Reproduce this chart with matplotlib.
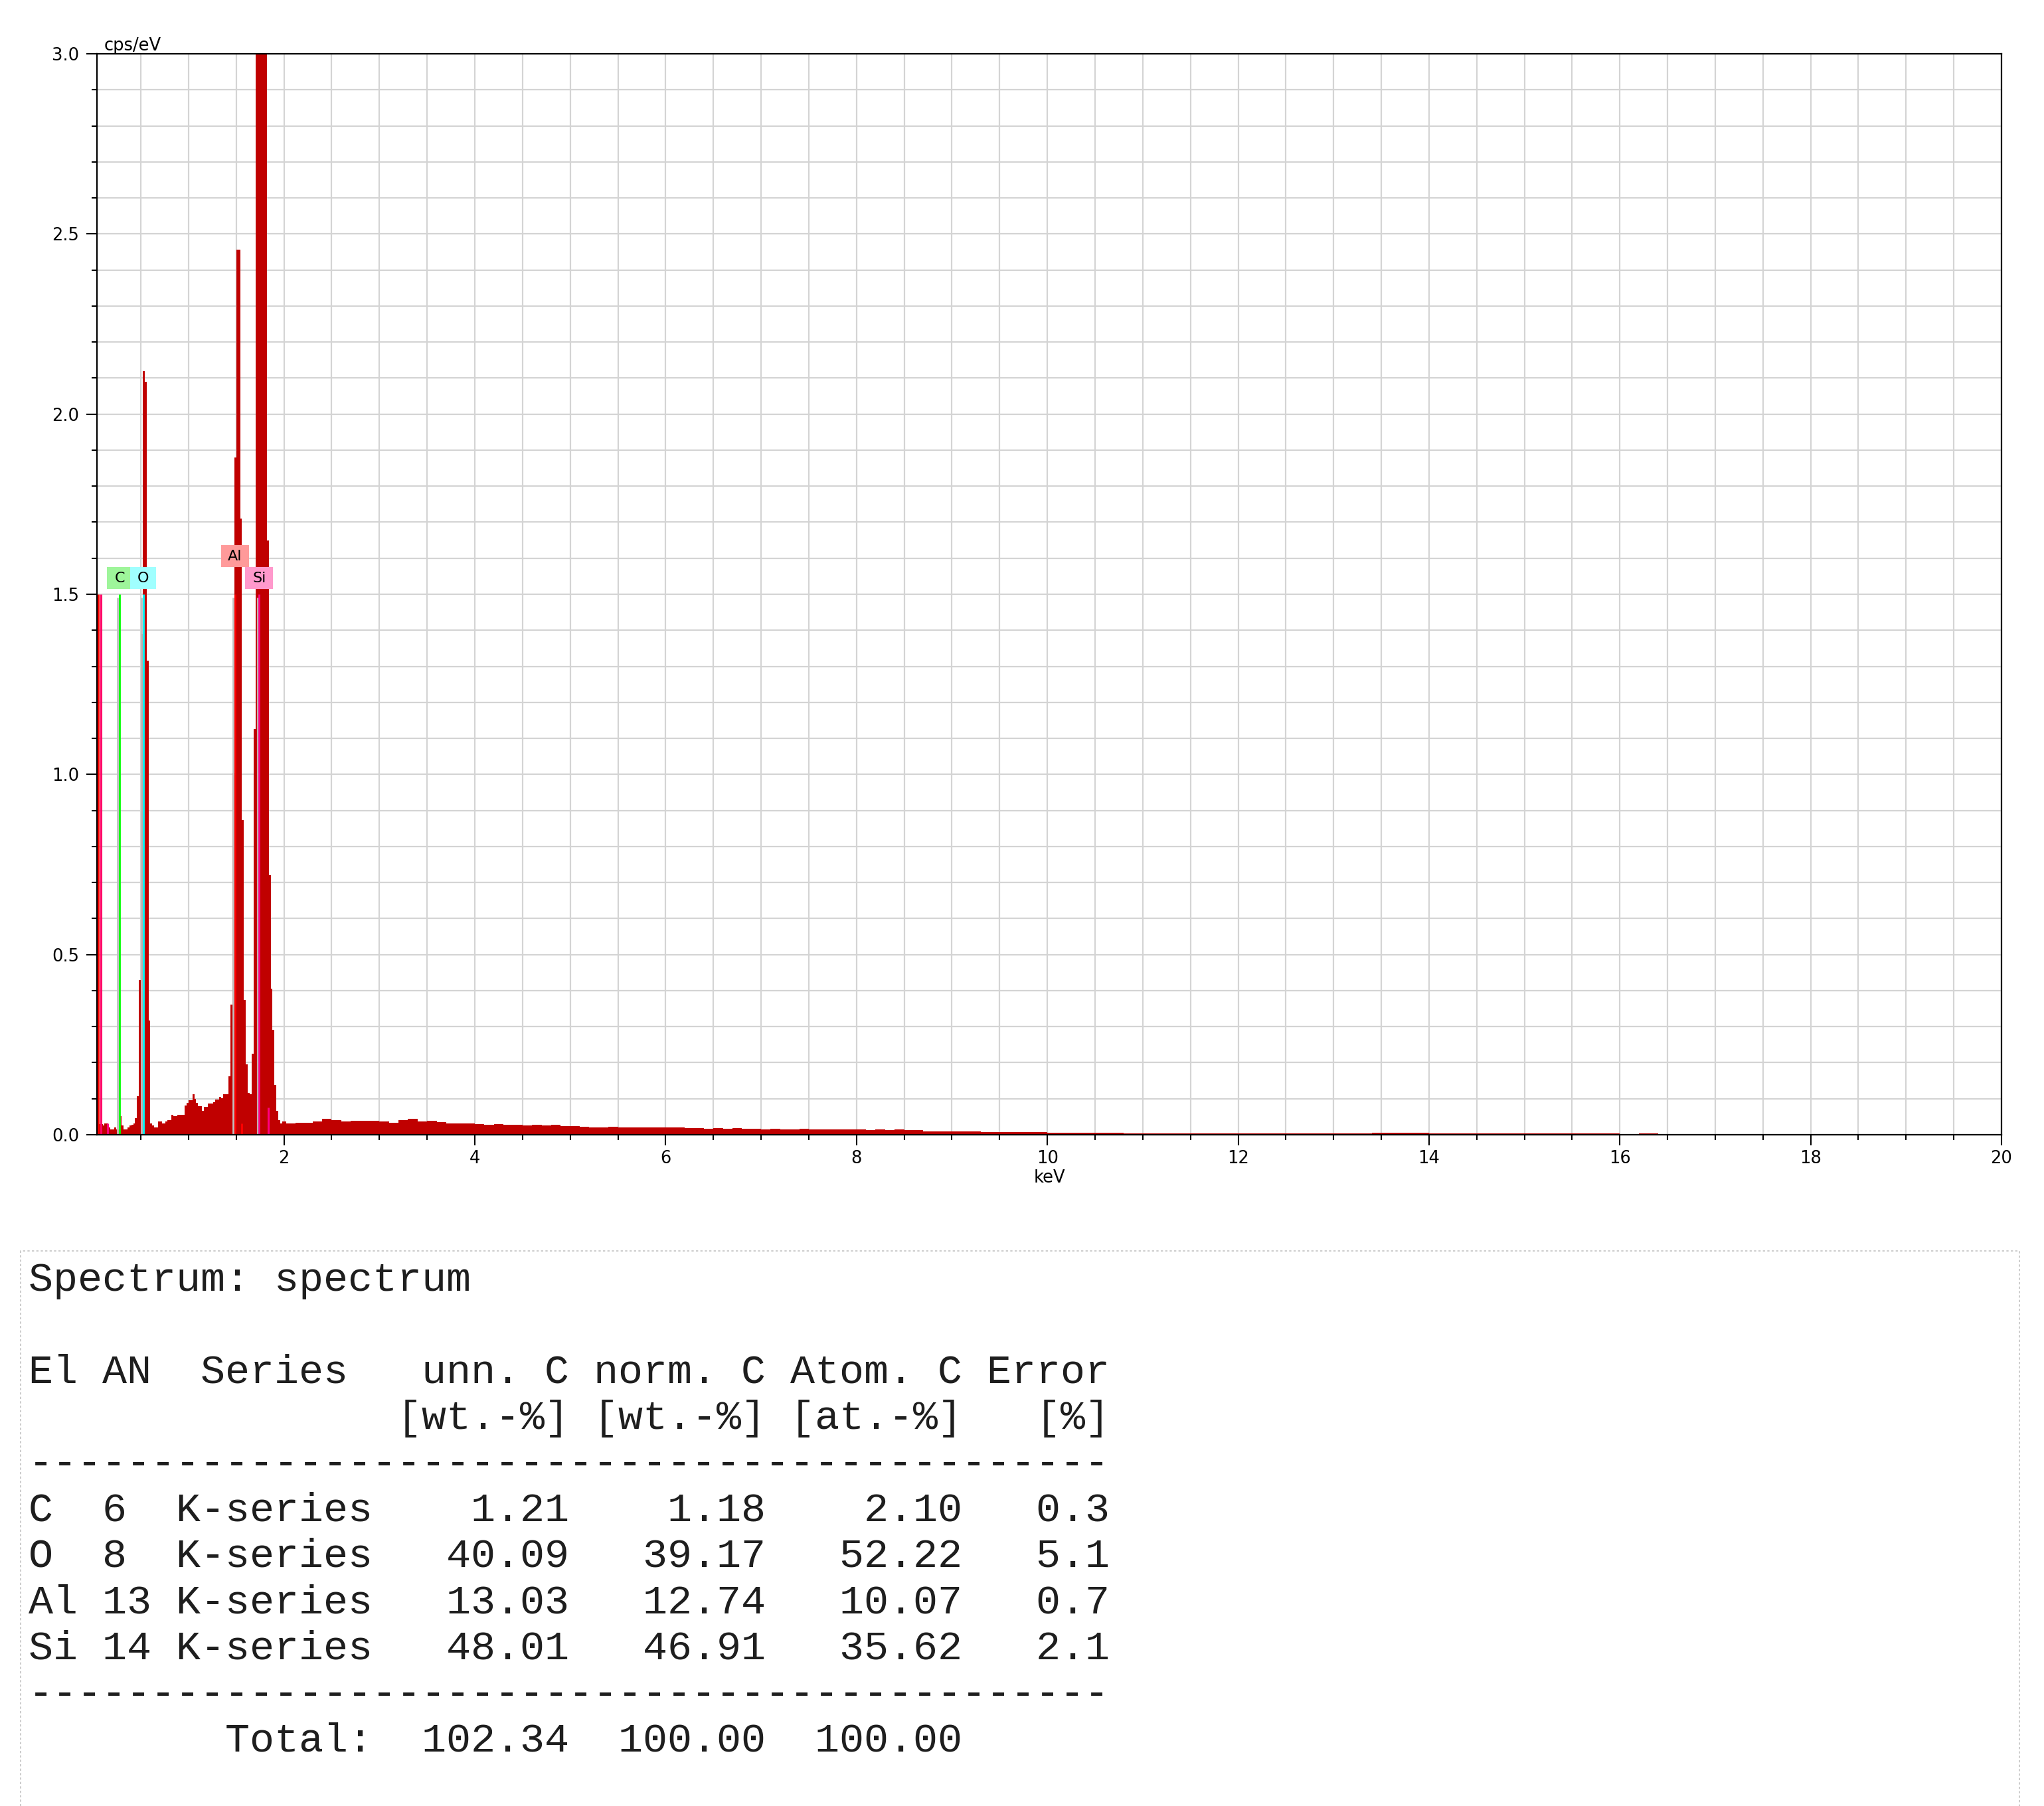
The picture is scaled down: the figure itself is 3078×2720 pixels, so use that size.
import numpy as np
import matplotlib.pyplot as plt
from matplotlib.patches import Rectangle
from matplotlib.ticker import MultipleLocator, FormatStrFormatter

# ========== 1. Spectrum data ==========
# fine channels around the peaks: 0.02 keV wide, first one starts at 0.04 keV
low_start_kev = 0.04
low_step_kev = 0.02
low_cps = [
    0.030, 0.030, 0.030, 0.025, 0.031, 0.031, 0.020, 0.015, 0.015, 0.020,
    0.015, 0.015, 0.051, 0.026, 0.015, 0.015, 0.020, 0.025, 0.028, 0.031,
    0.046, 0.107, 0.430, 1.390, 2.120, 2.090, 1.315, 0.317, 0.031, 0.025,
    0.021, 0.021, 0.036, 0.036, 0.031, 0.031, 0.036, 0.041, 0.041, 0.056,
    0.051, 0.051, 0.056, 0.056, 0.056, 0.056, 0.082, 0.089, 0.096, 0.096,
    0.112, 0.100, 0.089, 0.080, 0.080, 0.066, 0.077, 0.077, 0.087, 0.087,
    0.087, 0.090, 0.097, 0.097, 0.105, 0.101, 0.112, 0.112, 0.112, 0.163,
    0.362, 1.005, 1.880, 2.457, 2.457, 1.710, 0.873, 0.374, 0.196, 0.117,
    0.112, 0.225, 1.126, 3.400, 4.600, 5.500, 5.200, 4.100, 3.200, 1.650,
    0.720, 0.405, 0.292, 0.138, 0.066, 0.041, 0.031, 0.036, 0.036, 0.031,
    0.031, 0.031, 0.031, 0.031, 0.034, 0.034, 0.034, 0.033,
]

# background 2.2 - 10 keV in 0.1 keV bins
mid_start_kev = 2.2
mid_step_kev = 0.1
mid_cps = [
    0.033, 0.036, 0.045, 0.040, 0.037, 0.038, 0.039, 0.038, 0.036, 0.034,
    0.040, 0.044, 0.037, 0.038, 0.035, 0.032, 0.031, 0.031, 0.029, 0.027,
    0.030, 0.027, 0.027, 0.026, 0.027, 0.025, 0.027, 0.024, 0.024, 0.022,
    0.021, 0.021, 0.022, 0.020, 0.021, 0.020, 0.020, 0.020, 0.020, 0.021,
    0.018, 0.018, 0.017, 0.018, 0.017, 0.019, 0.016, 0.016, 0.015, 0.016,
    0.015, 0.015, 0.016, 0.015, 0.015, 0.014, 0.015, 0.014, 0.014, 0.013,
    0.014, 0.013, 0.014, 0.013, 0.012, 0.010, 0.010, 0.009, 0.010, 0.009,
    0.009, 0.008, 0.008, 0.007, 0.008, 0.007, 0.007, 0.007,
]

# background 10 - 17 keV in 0.2 keV bins
high_start_kev = 10.0
high_step_kev = 0.2
high_cps = [
    0.006, 0.006, 0.005, 0.005, 0.004, 0.004, 0.004, 0.004, 0.004, 0.004,
    0.003, 0.003, 0.003, 0.003, 0.003, 0.004, 0.004, 0.005, 0.005, 0.005,
    0.004, 0.004, 0.003, 0.004, 0.003, 0.003, 0.003, 0.003, 0.003, 0.003,
    0.002, 0.003, 0.002, 0.000, 0.000,
]

# element markers
marker_names = ["C", "O", "Al", "Si"]
marker_kev = [0.277, 0.525, 1.486, 1.740]
marker_line_colors = ["#00ff00", "#00ffff", "#ff0000", "#ff0080"]
marker_box_colors = ["#9ef59a", "#a0ffff", "#ff9a9a", "#ff99cc"]
marker_box_level = [0, 0, 1, 0]          # Al label is stacked one row up
marker_box_width = [0.27, 0.27, 0.29, 0.29]

# unlabelled marker lines (L lines near zero, K-beta lines)
extra_kev = [0.056, 0.081, 0.149, 1.557, 1.836]
extra_height = [1.5, 1.5, 0.031, 0.031, 0.075]
extra_colors = ["#ff0000", "#ff0066", "#ff0080", "#ff0000", "#ff0080"]

# quantification table
tab_el = ["C", "O", "Al", "Si"]
tab_an = [6, 8, 13, 14]
tab_series = ["K-series"] * 4
tab_unn = [1.21, 40.09, 13.03, 48.01]
tab_norm = [1.18, 39.17, 12.74, 46.91]
tab_atom = [2.10, 52.22, 10.07, 35.62]
tab_err = [0.3, 5.1, 0.7, 2.1]
tab_total = [102.34, 100.00, 100.00]

# ========== 2. Figure ==========
W, H = 3078, 2720
fig = plt.figure(figsize=(W / 100, H / 100), dpi=100)
ax = fig.add_axes([146 / W, 1 - 1709 / H, (3014 - 146) / W, (1709 - 81) / H])

bar_color = "#c00000"
for start, step, vals in [(low_start_kev, low_step_kev, low_cps),
                          (mid_start_kev, mid_step_kev, mid_cps),
                          (high_start_kev, high_step_kev, high_cps)]:
    edges = start + step * np.arange(len(vals) + 1)
    ax.stairs(vals, edges, fill=True, color=bar_color, lw=0, zorder=2)

# marker lines with grey shadow
shadow_dx = 0.019
for kev, h, c in zip(extra_kev, extra_height, extra_colors):
    ax.vlines(kev, 0, h, color=c, lw=2.2, zorder=3)
for kev, c in zip(marker_kev, marker_line_colors):
    ax.vlines(kev - shadow_dx, 0, 1.49, color="#c0c0c0", lw=2.0, zorder=3)
    ax.vlines(kev, 0, 1.5, color=c, lw=2.0, zorder=3)

box_h = 0.061
for name, kev, bc, lvl, bw in zip(marker_names, marker_kev, marker_box_colors,
                                  marker_box_level, marker_box_width):
    y0 = 1.514 + lvl * box_h
    ax.add_patch(Rectangle((kev - bw / 2, y0), bw, box_h, facecolor=bc,
                           edgecolor="none", zorder=4))
    ax.text(kev, y0 + box_h / 2, name, ha="center", va="center",
            fontsize=16, color="black", zorder=5)

ax.set_xlim(0.04, 20)
ax.set_ylim(0, 3.0)
ax.xaxis.set_major_locator(MultipleLocator(2))
ax.xaxis.set_minor_locator(MultipleLocator(0.5))
ax.yaxis.set_major_locator(MultipleLocator(0.5))
ax.yaxis.set_minor_locator(MultipleLocator(0.1))
ax.yaxis.set_major_formatter(FormatStrFormatter("%.1f"))

ax.grid(which="both", color="#d4d4d4", lw=1.6, zorder=0)
ax.set_axisbelow(True)
for s in ax.spines.values():
    s.set_linewidth(1.6)
    s.set_color("black")
    s.set_zorder(6)

ax.tick_params(axis="both", which="major", length=11.5, width=1.5,
               labelsize=18.5, color="black")
ax.tick_params(axis="both", which="minor", length=6, width=1.5, color="black")
ax.tick_params(axis="y", which="major", pad=8)
ax.tick_params(axis="x", which="major", pad=5)

ax.set_xlabel("keV", fontsize=18.5, labelpad=2)
fig.text(157 / W, 1 - 76 / H, "cps/eV", fontsize=18.5, va="baseline", ha="left")

# ========== 3. Result table ==========
fig.add_artist(Rectangle((31 / W, -0.01), (3041 - 31) / W, (H - 1884) / H + 0.01,
                         transform=fig.transFigure, fill=False,
                         edgecolor="#c4c4c4", lw=1.2, linestyle=(0, (2, 2))))

lines = ["Spectrum: spectrum", "",
         "El AN  Series   unn. C norm. C Atom. C Error",
         "               [wt.-%] [wt.-%] [at.-%]   [%]",
         "-" * 44]
for el, an, se, u, n, a, e in zip(tab_el, tab_an, tab_series, tab_unn,
                                  tab_norm, tab_atom, tab_err):
    lines.append(f"{el:<3}{an:<3}{se:<8}{u:>8.2f}{n:>8.2f}{a:>8.2f}{e:>6.1f}")
lines.append("-" * 44)
lines.append(f"{'':<8}{'Total:':<6}{tab_total[0]:>8.2f}{tab_total[1]:>8.2f}"
             f"{tab_total[2]:>8.2f}")

for k, line in enumerate(lines):
    if not line:
        continue
    y_px = 1944 + 69.3 * k
    fig.text(43 / W, 1 - y_px / H, line, fontsize=44.5, family="Liberation Mono",
             color="#1e1e1e", va="baseline", ha="left")

fig.savefig("out.png", dpi=100, facecolor="white")
